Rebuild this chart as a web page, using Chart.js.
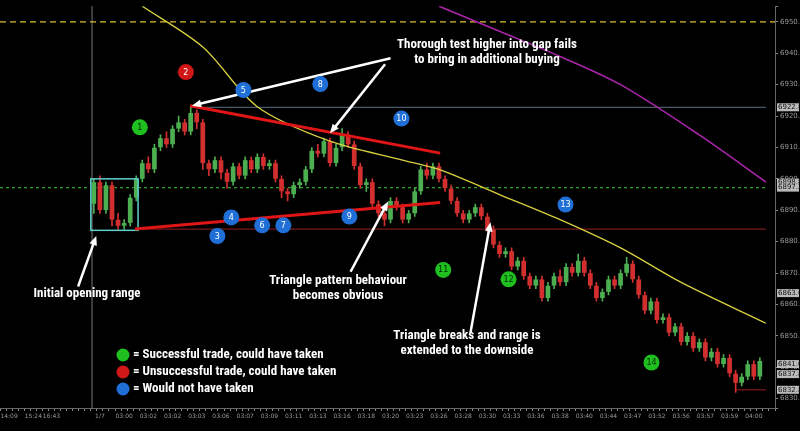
<!DOCTYPE html>
<html>
<head>
<meta charset="utf-8">
<script src="https://cdn.jsdelivr.net/npm/chart.js@4/dist/chart.umd.min.js"></script>
<style>
  html, body { margin: 0; padding: 0; background: #000; }
  #wrap { width: 800px; height: 431px; }
</style>
</head>
<body>
<div id="wrap"><canvas id="chart" width="800" height="431"></canvas></div>
<script>
// candles start at category index 15
const firstCandle = 15;
const opens  = [6892,6899,6890,6898,6887,6885,6886,6894,6900,6905,6903,6910,6913,6911,6916,6918,6915,6921,6918,6905,6903,6906,6902,6899,6904,6901,6906,6903,6907,6904,6905,6900,6896,6895,6898,6899,6903,6909,6908,6912,6905,6910,6914,6911,6904,6898,6899,6892,6889,6887,6893,6891,6887,6889,6896,6903,6901,6904,6900,6897,6893,6889,6887,6889,6891,6888,6884,6879,6876,6877,6872,6874,6869,6866,6868,6862,6866,6869,6867,6872,6870,6874,6870,6866,6862,6864,6868,6866,6870,6873,6868,6863,6858,6861,6855,6856,6851,6853,6848,6850,6846,6848,6843,6845,6841,6843,6838,6835,6837,6841,6837];
const closes = [6899,6890,6898,6887,6885,6886,6894,6900,6905,6903,6910,6913,6911,6916,6918,6915,6921,6918,6905,6903,6906,6902,6899,6904,6901,6906,6903,6907,6904,6905,6900,6896,6895,6898,6899,6903,6909,6908,6912,6905,6910,6914,6911,6904,6898,6899,6892,6889,6887,6893,6891,6887,6889,6896,6903,6901,6904,6900,6897,6893,6889,6887,6889,6891,6888,6884,6879,6876,6877,6872,6874,6869,6866,6868,6862,6866,6869,6867,6872,6870,6874,6870,6866,6862,6864,6868,6866,6870,6873,6868,6863,6858,6861,6855,6856,6851,6853,6848,6850,6846,6848,6843,6845,6841,6843,6838,6835,6837,6841,6837,6842];
const highs  = [6900,6901,6899,6899,6889,6887,6895,6901,6906,6907,6911,6914,6915,6917,6920,6919,6923,6922,6919,6906,6907,6907,6903,6905,6905,6907,6907,6908,6908,6906,6906,6901,6897,6899,6900,6904,6910,6911,6913,6913,6911,6916,6915,6912,6905,6900,6900,6893,6890,6894,6894,6892,6890,6897,6904,6905,6905,6905,6901,6898,6894,6890,6890,6892,6892,6889,6885,6880,6878,6878,6875,6875,6870,6869,6869,6867,6870,6871,6873,6873,6876,6875,6871,6867,6865,6869,6869,6871,6875,6874,6869,6864,6862,6862,6857,6857,6854,6854,6851,6851,6849,6849,6846,6846,6844,6844,6839,6838,6842,6842,6843];
const lows   = [6889,6889,6889,6885,6884,6884,6885,6893,6899,6902,6902,6909,6910,6910,6915,6914,6914,6916,6903,6901,6902,6900,6897,6898,6900,6900,6902,6902,6903,6903,6899,6894,6893,6894,6897,6898,6902,6907,6907,6904,6904,6909,6910,6903,6897,6896,6891,6888,6885,6886,6890,6886,6886,6888,6895,6900,6900,6899,6896,6892,6888,6886,6886,6888,6887,6883,6878,6875,6875,6871,6871,6868,6865,6865,6861,6861,6865,6866,6866,6869,6869,6869,6865,6861,6861,6863,6865,6865,6869,6867,6862,6857,6857,6854,6854,6850,6850,6847,6847,6845,6845,6842,6842,6840,6840,6837,6832,6834,6836,6836,6836];

const categoryCount = 128;
const tickIndex  = [1, 5, 8, 16, 20, 24, 28, 32, 36, 40, 44, 48, 52, 56, 60, 64, 68, 72, 76, 80, 84, 88, 92, 96, 100, 104, 108, 112, 116, 120, 124];
const tickLabels = ['14:09','15:24','16:43','1/7','03:00','03:02','03:02','03:03','03:06','03:07','03:09','03:11','03:13','03:16','03:18','03:20','03:23','03:26','03:28','03:30','03:33','03:36','03:38','03:40','03:44','03:47','03:52','03:56','03:57','03:59','04:00'];

// moving averages, [index, price]
const yellowMa  = [[23,6955],[33,6942],[42,6923],[54,6912],[66,6906],[72,6903],[82,6895],[92,6887],[102,6878],[112,6867],[126,6854]];
const magentaMa = [[72,6955],[82,6947],[92,6939],[102,6930],[115,6914],[126,6899]];

// trade markers: [index, price, number, type]
const markers = [
  [22.6,6916.4,'1','win'],[30.2,6934,'2','loss'],[35.4,6881.8,'3','skip'],[37.7,6887.7,'4','skip'],
  [39.7,6928.3,'5','skip'],[42.8,6885.2,'6','skip'],[46.3,6885.2,'7','skip'],[52.4,6930.2,'8','skip'],
  [57.2,6888,'9','skip'],[65.8,6919.2,'10','skip'],[72.7,6871,'11','win'],[83.5,6868,'12','win'],
  [92.9,6891.8,'13','skip'],[107.1,6841.5,'14','win']
];
const trendLines = [[30.9,6923.3,72.2,6908.2],[21.8,6884,72.2,6892.5]];
const arrows = [
  [64,6938.4,31.2,6923.3],[63.1,6936.5,54,6914.5],[57.4,6870.4,63.6,6892.8],
  [77.2,6851,80.5,6886.2],[12.4,6865.7,15.4,6881.8]
];
// horizontal levels: [price, fromIndex, toIndex, colour, dash]
const levels = [
  [6950,-0.5,127.5,'#e0c030',[6,4]],
  [6897.2,-0.5,126,'#2aa02a',[3,3]],
  [6922.8,31,126,'#4a5a66',[]],
  [6884,22,126,'#7a1818',[]],
  [6832.8,121,126,'#7a1818',[]]
];
const priceTags = [6922.8, 6898.8, 6897.2, 6863.6, 6841.0, 6837.8, 6832.8];

const labels = [];
for (let i = 0; i < categoryCount; i++) labels.push(i);

const wickData = [], bodyData = [], candleColors = [];
opens.forEach((o, k) => {
  let i = firstCandle + k;
  wickData.push({x: i, y: [lows[k], highs[k]]});
  bodyData.push({x: i, y: [o, closes[k]]});
  candleColors.push(closes[k] >= o ? '#4caf50' : '#d32f2f');
});

const markerColors = {win: '#1fbf1f', loss: '#d01818', skip: '#1f6fd6'};
const textFont = 'bold 13px "Liberation Sans Narrow", "Roboto Condensed", "Open Sans"';

function drawArrow(ctx, x1, y1, x2, y2) {
  let a = Math.atan2(y2 - y1, x2 - x1);
  ctx.beginPath();
  ctx.moveTo(x1, y1);
  ctx.lineTo(x2 - 7 * Math.cos(a), y2 - 7 * Math.sin(a));
  ctx.stroke();
  ctx.beginPath();
  ctx.moveTo(x2, y2);
  ctx.lineTo(x2 - 10 * Math.cos(a - 0.4), y2 - 10 * Math.sin(a - 0.4));
  ctx.lineTo(x2 - 10 * Math.cos(a + 0.4), y2 - 10 * Math.sin(a + 0.4));
  ctx.closePath();
  ctx.fill();
}

const overlayPlugin = {
  id: 'overlay',
  beforeDatasetsDraw(chart) {
    const ctx = chart.ctx, xs = chart.scales.x, ys = chart.scales.y, area = chart.chartArea;
    ctx.save();
    // session separator
    ctx.strokeStyle = '#777';
    ctx.lineWidth = 1;
    ctx.beginPath();
    ctx.moveTo(xs.getPixelForValue(14.7), area.top);
    ctx.lineTo(xs.getPixelForValue(14.7), area.bottom);
    ctx.stroke();
    levels.forEach(([p, a, b, c, d]) => {
      ctx.strokeStyle = c;
      ctx.lineWidth = 1.3;
      ctx.setLineDash(d);
      ctx.beginPath();
      ctx.moveTo(xs.getPixelForValue(a), ys.getPixelForValue(p));
      ctx.lineTo(xs.getPixelForValue(b), ys.getPixelForValue(p));
      ctx.stroke();
    });
    ctx.setLineDash([]);
    ctx.restore();
  },
  afterDatasetsDraw(chart) {
    const ctx = chart.ctx, xs = chart.scales.x, ys = chart.scales.y;
    const X = v => xs.getPixelForValue(v), Y = v => ys.getPixelForValue(v);
    ctx.save();
    // opening range box
    ctx.strokeStyle = '#5fd0d0';
    ctx.lineWidth = 1.5;
    ctx.strokeRect(X(14.5), Y(6900), X(22.3) - X(14.5), Y(6883.6) - Y(6900));
    // triangle
    ctx.strokeStyle = '#e01515';
    ctx.lineWidth = 3;
    trendLines.forEach(([a, p, b, q]) => {
      ctx.beginPath(); ctx.moveTo(X(a), Y(p)); ctx.lineTo(X(b), Y(q)); ctx.stroke();
    });
    // arrows
    ctx.strokeStyle = '#fff';
    ctx.fillStyle = '#fff';
    ctx.lineWidth = 2.5;
    arrows.forEach(([a, p, b, q]) => drawArrow(ctx, X(a), Y(p), X(b), Y(q)));
    // markers
    ctx.textAlign = 'center';
    ctx.textBaseline = 'middle';
    markers.forEach(([i, p, n, t]) => {
      ctx.fillStyle = markerColors[t];
      ctx.beginPath(); ctx.arc(X(i), Y(p), 8, 0, Math.PI * 2); ctx.fill();
      ctx.fillStyle = t === 'win' ? '#002800' : '#fff';
      ctx.font = '8px "DejaVu Sans"';
      ctx.fillText(n, X(i), Y(p) + 0.5);
    });
    // annotation texts
    ctx.fillStyle = '#fff';
    ctx.font = textFont;
    [['Thorough test higher into gap fails', 487, 45], ['to bring in additional buying', 487, 60],
     ['Triangle pattern behaviour', 338, 281], ['becomes obvious', 338, 296],
     ['Initial opening range', 87, 294],
     ['Triangle breaks and range is', 467, 336], ['extended to the downside', 467, 351]]
      .forEach(([s, x, y]) => ctx.fillText(s, x, y));
    // legend
    ctx.textAlign = 'left';
    [['win', '= Successful trade, could have taken', 355], ['loss', '= Unsuccessful trade, could have taken', 372],
     ['skip', '= Would not have taken', 389]].forEach(([t, s, y]) => {
      ctx.fillStyle = markerColors[t];
      ctx.beginPath(); ctx.arc(123, y, 6.5, 0, Math.PI * 2); ctx.fill();
      ctx.fillStyle = '#fff';
      ctx.fillText(s, 133, y);
    });
    // price tags on the axis
    ctx.font = '7px "DejaVu Sans"';
    priceTags.forEach(p => {
      let y = Y(p), x = chart.chartArea.right + 2;
      ctx.fillStyle = '#bbb';
      ctx.fillRect(x, y - 4, 22, 8);
      ctx.fillStyle = '#111';
      ctx.fillText(p.toFixed(1), x + 1, y);
    });
    ctx.restore();
  }
};

function sparse(points) {
  let arr = new Array(categoryCount).fill(null);
  points.forEach(([i, p]) => arr[i] = p);
  return arr;
}

new Chart(document.getElementById('chart'), {
  data: {
    labels: labels,
    datasets: [
      { type: 'line', data: sparse(yellowMa), borderColor: '#d8d040', borderWidth: 1.3, pointRadius: 0, spanGaps: true, tension: 0.3 },
      { type: 'line', data: sparse(magentaMa), borderColor: '#a824a8', borderWidth: 1.6, pointRadius: 0, spanGaps: true, tension: 0.3 },
      { type: 'bar', data: wickData, backgroundColor: candleColors, barThickness: 1, grouped: false },
      { type: 'bar', data: bodyData, backgroundColor: candleColors, borderColor: '#111', borderWidth: 0.5, borderSkipped: false, barThickness: 5, grouped: false }
    ]
  },
  options: {
    responsive: false,
    animation: false,
    layout: { padding: 0 },
    plugins: { legend: { display: false }, tooltip: { enabled: false } },
    scales: {
      x: {
        type: 'category',
        grid: { display: true, drawOnChartArea: false, color: '#888', tickLength: 3 },
        border: { color: '#666' },
        ticks: {
          autoSkip: false, maxRotation: 0, color: '#999', font: { size: 6, family: 'DejaVu Sans' }, padding: 2,
          callback: function(value, index) {
            let k = tickIndex.indexOf(index);
            return k >= 0 ? tickLabels[k] : '';
          }
        },
        afterFit: function(scale) { scale.height = 23; }
      },
      y: {
        position: 'right',
        min: 6827,
        max: 6955,
        grid: { display: true, drawOnChartArea: false, color: '#888', tickLength: 3 },
        border: { color: '#666' },
        ticks: {
          stepSize: 10, color: '#999', font: { size: 7, family: 'DejaVu Sans' }, padding: 2,
          callback: function(value) { return value % 10 === 0 ? value.toFixed(1) : ''; }
        },
        afterFit: function(scale) { scale.width = 25; }
      }
    }
  },
  plugins: [overlayPlugin]
});
</script>
</body>
</html>
